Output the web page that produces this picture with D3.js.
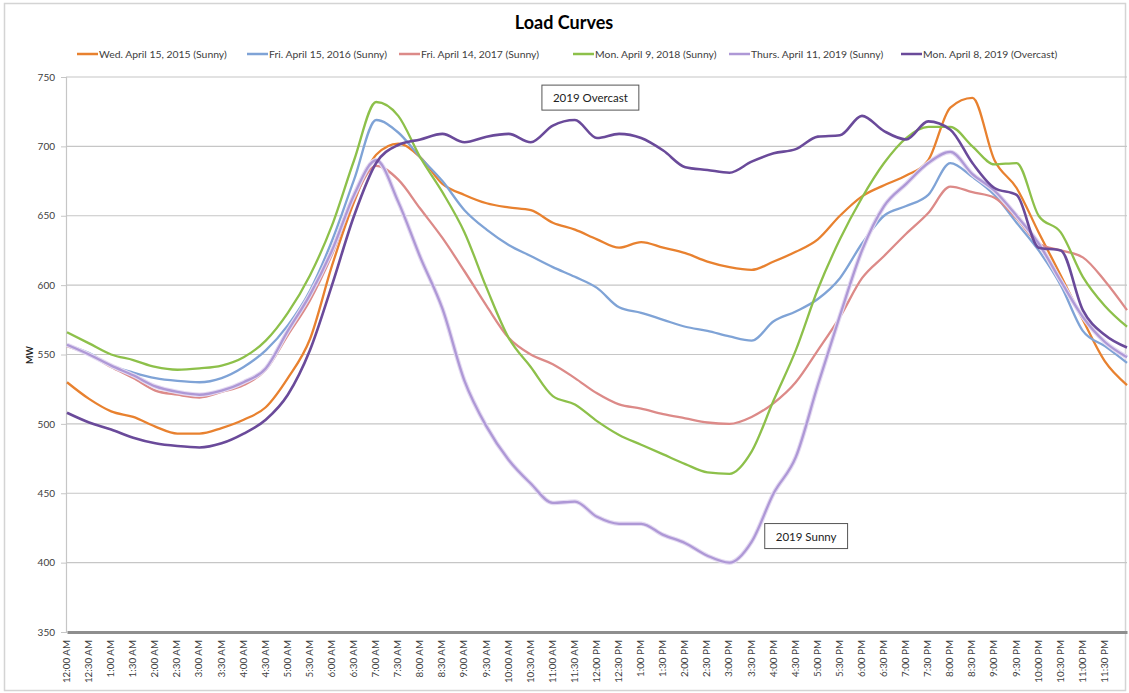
<!DOCTYPE html>
<html>
<head>
<meta charset="utf-8">
<script src="https://cdn.jsdelivr.net/npm/d3@7"></script>
<style>
  html, body { margin: 0; padding: 0; background: #fff; }
  svg { display: block; font-family: Lato, "Open Sans", sans-serif; }
</style>
</head>
<body>
<svg id="chart" width="1129" height="693"></svg>
<script>
// ---- data (MW at each half hour, 12:00 AM .. next 12:00 AM) ----
const timeLabels = ["12:00 AM","12:30 AM","1:00 AM","1:30 AM","2:00 AM","2:30 AM","3:00 AM","3:30 AM",
  "4:00 AM","4:30 AM","5:00 AM","5:30 AM","6:00 AM","6:30 AM","7:00 AM","7:30 AM","8:00 AM","8:30 AM",
  "9:00 AM","9:30 AM","10:00 AM","10:30 AM","11:00 AM","11:30 AM","12:00 PM","12:30 PM","1:00 PM",
  "1:30 PM","2:00 PM","2:30 PM","3:00 PM","3:30 PM","4:00 PM","4:30 PM","5:00 PM","5:30 PM","6:00 PM",
  "6:30 PM","7:00 PM","7:30 PM","8:00 PM","8:30 PM","9:00 PM","9:30 PM","10:00 PM","10:30 PM",
  "11:00 PM","11:30 PM"];
const yTicks = [350, 400, 450, 500, 550, 600, 650, 700, 750];

const seriesNames = ["Wed. April 15, 2015 (Sunny)", "Fri. April 15, 2016 (Sunny)", "Fri. April 14, 2017 (Sunny)",
  "Mon. April 9, 2018 (Sunny)", "Thurs. April 11, 2019 (Sunny)", "Mon. April 8, 2019 (Overcast)"];

const wed2015 = [530,518,509,505,498,493,493,497,503,512,533,561,614,660,694,702,692,673,665,659,656,654,645,640,633,627,631,627,623,617,613,611,617,624,633,650,664,672,679,690,728,735,690,670,638,607,575,545,528];
const fri2016 = [557,551,542,537,533,531,530,533,541,553,571,596,632,676,719,710,692,675,654,640,629,621,613,606,598,584,580,575,570,567,563,560,574,581,590,605,630,650,657,665,688,678,665,645,625,600,567,556,544];
const fri2017 = [556,550,541,533,524,521,519,523,528,539,564,589,622,662,686,676,655,634,610,585,562,550,543,533,522,514,511,507,504,501,500,505,515,530,553,577,605,621,637,652,671,667,663,648,630,625,620,603,582];
const mon2018 = [566,558,550,546,541,539,540,542,548,560,580,607,643,690,732,722,692,667,638,598,562,541,520,514,502,492,485,478,471,465,464,480,517,553,597,633,663,688,706,714,714,700,687,688,650,638,606,585,570];
const thu2019 = [557,550,542,535,527,523,521,524,530,540,567,593,625,665,690,660,620,583,531,498,474,457,443,444,433,428,428,420,414,405,400,415,450,476,528,578,625,657,673,688,696,680,668,650,630,603,577,559,548];
const mon2019 = [508,501,496,490,486,484,483,486,493,503,521,553,600,650,688,701,705,709,703,707,709,703,715,719,706,709,706,697,685,683,681,689,695,698,707,708,722,711,705,718,712,688,670,665,627,625,582,564,555];

const seriesValues = [wed2015, fri2016, fri2017, mon2018, thu2019, mon2019];
const seriesColors = ["#E8812F", "#7FA3D6", "#DC8A88", "#8DC04A", "#AE98D6", "#6A4A9A"];

const annotations = [
  { text: "2019 Overcast", t: 23.7, v: 734 },
  { text: "2019 Sunny", t: 33.47, v: 418 }
];

// ---- layout ----
const svg = d3.select("#chart");
const W = 1129, H = 693;
const x = d3.scaleLinear().domain([0, 48]).range([67, 1127]);
const y = d3.scaleLinear().domain([350, 750]).range([632, 77]);

// outer border
svg.append("rect").attr("x", 4.5).attr("y", 3.5).attr("width", W - 8).attr("height", H - 6)
  .attr("fill", "#fff").attr("stroke", "#D4D4D4").attr("stroke-width", 1.5);

// title
svg.append("text").attr("x", 564).attr("y", 29).attr("text-anchor", "middle")
  .attr("font-size", 18).attr("font-weight", "bold").attr("fill", "#000").text("Load Curves");

// gridlines
svg.append("g").selectAll("line").data(yTicks.filter(d => d > 350)).join("line")
  .attr("x1", 66).attr("x2", 1127).attr("y1", d => y(d)).attr("y2", d => y(d))
  .attr("stroke", "#C6C6C6").attr("stroke-width", 1.2);

// y axis
const yAxis = svg.append("g").attr("transform", "translate(66,0)")
  .call(d3.axisLeft(y).tickValues(yTicks).tickSize(5).tickPadding(6).tickFormat(d3.format("d")));
yAxis.select(".domain").attr("stroke", "#C6C6C6").attr("stroke-width", 1.2);
yAxis.selectAll(".tick line").attr("stroke", "#C6C6C6");
yAxis.selectAll(".tick text").attr("font-size", 10).attr("fill", "#404040")
  .attr("font-family", "Lato, sans-serif");

// y label
svg.append("text").attr("transform", "translate(33,355) rotate(-90)").attr("text-anchor", "middle")
  .attr("font-size", 9).attr("font-weight", "bold").attr("fill", "#222").text("MW");

// x axis
const xAxis = svg.append("g").attr("transform", "translate(0,632)")
  .call(d3.axisBottom(x).tickValues(d3.range(timeLabels.length)).tickSize(0)
    .tickFormat(i => timeLabels[i]));
xAxis.select(".domain").attr("stroke", "#8E8E8E").attr("stroke-width", 3);
xAxis.selectAll(".tick text")
  .attr("font-size", 9.8).attr("fill", "#404040").attr("font-family", "Lato, sans-serif")
  .attr("text-anchor", "end").attr("dy", null)
  .attr("transform", "rotate(-90)").attr("x", -8).attr("y", 0).attr("dominant-baseline", "middle");

// lines
const line = d3.line().x((d, i) => x(i)).y(d => y(d)).curve(d3.curveMonotoneX);
const g = svg.append("g");
seriesValues.forEach((vals, k) => {
  if (k === 4) {
    g.append("path").datum(vals).attr("d", line).attr("fill", "none")
      .attr("stroke", "#E4DAF2").attr("stroke-width", 4.5).attr("stroke-linejoin", "round");
  }
  g.append("path").datum(vals).attr("d", line).attr("fill", "none")
    .attr("stroke", seriesColors[k]).attr("stroke-width", k === 5 ? 2.6 : 2.3)
    .attr("stroke-linejoin", "round");
});

// legend
const legendX = [77, 247, 399, 573, 729, 901];
const legend = svg.append("g");
seriesNames.forEach((name, k) => {
  legend.append("line").attr("x1", legendX[k]).attr("x2", legendX[k] + 21)
    .attr("y1", 54).attr("y2", 54).attr("stroke", seriesColors[k]).attr("stroke-width", 2.5);
  legend.append("text").attr("x", legendX[k] + 22).attr("y", 57.5)
    .attr("font-size", 10.4).attr("fill", "#404040").text(name);
});

// annotations
annotations.forEach(a => {
  const gg = svg.append("g");
  const t = gg.append("text").attr("x", x(a.t)).attr("y", y(a.v)).attr("text-anchor", "middle")
    .attr("dominant-baseline", "middle").attr("font-size", 11.5).attr("fill", "#222").text(a.text);
  const bb = t.node().getBBox();
  gg.insert("rect", "text").attr("x", bb.x - 11).attr("y", bb.y - 6)
    .attr("width", bb.width + 22).attr("height", bb.height + 12)
    .attr("fill", "#fff").attr("stroke", "#555").attr("stroke-width", 1);
});
</script>
</body>
</html>
